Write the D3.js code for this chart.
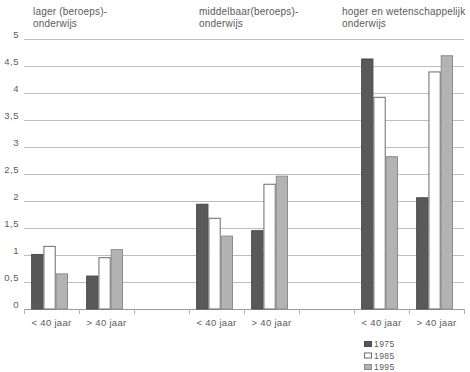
<!DOCTYPE html>
<html>
<head>
<meta charset="utf-8">
<script src="https://cdn.jsdelivr.net/npm/d3@7"></script>
<style>
  body { margin: 0; background: #fff; }
  svg { display: block; font-family: "Liberation Sans", Arial, sans-serif; }
</style>
</head>
<body>
<div id="chart"></div>
<script>
// Data
var slots = ["l<", "l>", "gap1", "m<", "m>", "gap2", "h<", "h>"];
var slotLabels = ["< 40 jaar", "> 40 jaar", "", "< 40 jaar", "> 40 jaar", "", "< 40 jaar", "> 40 jaar"];
var series = ["1975", "1985", "1995"];
var values1975 = [1.01, 0.61, null, 1.94, 1.45, null, 4.63, 2.06];
var values1985 = [1.16, 0.95, null, 1.68, 2.31, null, 3.92, 4.39];
var values1995 = [0.65, 1.10, null, 1.35, 2.46, null, 2.82, 4.69];
var yTicks = [0, 0.5, 1, 1.5, 2, 2.5, 3, 3.5, 4, 4.5, 5];
var groupTitles = [
  { slot: 0, lines: ["lager (beroeps)-", "onderwijs"], dx: 9 },
  { slot: 3, lines: ["middelbaar(beroeps)-", "onderwijs"], dx: 10 },
  { slot: 6, lines: ["hoger en wetenschappelijk", "onderwijs"], dx: -12 }
];

var width = 470, height = 372;
var margin = { top: 39, left: 24, right: 6, bottom: 63 };

var svg = d3.select("#chart").append("svg")
    .attr("width", width)
    .attr("height", height);

var x0 = d3.scaleBand()
    .domain(slots)
    .range([margin.left, width - margin.right]);

var x1 = d3.scaleBand()
    .domain(series)
    .range([x0.bandwidth() * 0.13, x0.bandwidth() * 0.8]);

var y = d3.scaleLinear()
    .domain([0, 5])
    .range([height - margin.bottom, margin.top]);

var fill = { "1975": "#595959", "1985": "#ffffff", "1995": "#b3b3b3" };
var stroke = { "1975": "#4a4a4a", "1985": "#6a6a6a", "1995": "#8c8c8c" };
var textColor = "#5a5a5a";

// gridlines
svg.append("g")
  .selectAll("line")
  .data(yTicks)
  .enter().append("line")
    .attr("x1", margin.left)
    .attr("x2", width - margin.right)
    .attr("y1", function(d) { return Math.round(y(d)) + 0.5; })
    .attr("y2", function(d) { return Math.round(y(d)) + 0.5; })
    .style("stroke", function(d) { return d === 0 ? "#9a9a9a" : "#bdbdbd"; })
    .style("stroke-width", 1);

// y labels
svg.append("g")
  .selectAll("text")
  .data(yTicks)
  .enter().append("text")
    .attr("x", 19)
    .attr("y", function(d) { return y(d) - 1; })
    .attr("text-anchor", "end")
    .style("font-size", "9.5px")
    .style("letter-spacing", "0.5px")
    .style("fill", textColor)
    .text(function(d) { return String(d).replace(".", ","); });

// x ticks at band edges
var edges = slots.map(function(s) { return x0(s); }).concat([x0.range()[1]]);
svg.append("g")
  .selectAll("line")
  .data(edges)
  .enter().append("line")
    .attr("x1", function(d) { return Math.round(d) + 0.5; })
    .attr("x2", function(d) { return Math.round(d) + 0.5; })
    .attr("y1", y(0))
    .attr("y2", y(0) + 5)
    .style("stroke", "#b0b0b0");

// bars
var table = series.map(function(s, k) {
  var vals = [values1975, values1985, values1995][k];
  return slots.map(function(slot, i) { return { series: s, slot: slot, value: vals[i] }; })
    .filter(function(d) { return d.value !== null; });
});

svg.append("g")
  .selectAll("g")
  .data(table)
  .enter().append("g")
  .selectAll("rect")
  .data(function(d) { return d; })
  .enter().append("rect")
    .attr("x", function(d) { return x0(d.slot) + x1(d.series) + 0.5; })
    .attr("y", function(d) { return y(d.value); })
    .attr("width", x1.bandwidth() - 1)
    .attr("height", function(d) { return y(0) - y(d.value); })
    .style("fill", function(d) { return fill[d.series]; })
    .style("stroke", function(d) { return stroke[d.series]; })
    .style("stroke-width", 1);

// x labels
svg.append("g")
  .selectAll("text")
  .data(slots)
  .enter().append("text")
    .attr("x", function(d) { return x0(d) + x0.bandwidth() / 2; })
    .attr("y", 326)
    .attr("text-anchor", "middle")
    .style("font-size", "9.5px")
    .style("letter-spacing", "0.3px")
    .style("fill", textColor)
    .text(function(d, i) { return slotLabels[i]; });

// group titles
var titles = svg.append("g")
  .selectAll("text")
  .data(groupTitles)
  .enter().append("text")
    .attr("x", function(d) { return x0(slots[d.slot]) + d.dx; })
    .attr("y", 15)
    .style("font-size", "10px")
    .style("letter-spacing", "0.2px")
    .style("fill", textColor);

titles.selectAll("tspan")
  .data(function(d) { return d.lines.map(function(l) { return { line: l, x: x0(slots[d.slot]) + d.dx }; }); })
  .enter().append("tspan")
    .attr("x", function(d) { return d.x; })
    .attr("dy", function(d, i) { return i === 0 ? 0 : 12; })
    .text(function(d) { return d.line; });

// legend
var legend = svg.append("g")
  .selectAll("g")
  .data(series)
  .enter().append("g")
    .attr("transform", function(d, i) { return "translate(364," + (344 + i * 11.5) + ")"; });

legend.append("rect")
    .attr("x", 0.5)
    .attr("y", -2.5)
    .attr("width", 7)
    .attr("height", 5)
    .style("fill", function(d) { return fill[d]; })
    .style("stroke", function(d) { return stroke[d]; });

legend.append("text")
    .attr("x", 10)
    .attr("y", 3)
    .style("font-size", "8.5px")
    .style("letter-spacing", "0.4px")
    .style("fill", textColor)
    .text(function(d) { return d; });
</script>
</body>
</html>
